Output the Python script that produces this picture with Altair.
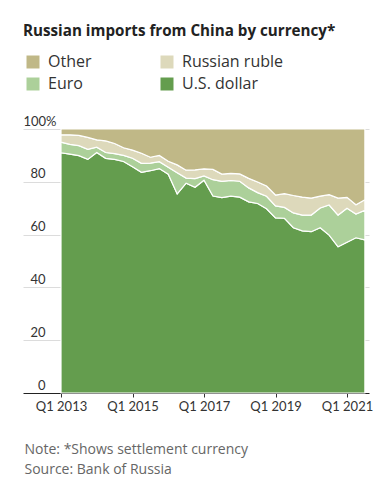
import altair as alt
import pandas as pd

quarters = [
    "Q1 2013", "Q2 2013", "Q3 2013", "Q4 2013",
    "Q1 2014", "Q2 2014", "Q3 2014", "Q4 2014",
    "Q1 2015", "Q2 2015", "Q3 2015", "Q4 2015",
    "Q1 2016", "Q2 2016", "Q3 2016", "Q4 2016",
    "Q1 2017", "Q2 2017", "Q3 2017", "Q4 2017",
    "Q1 2018", "Q2 2018", "Q3 2018", "Q4 2018",
    "Q1 2019", "Q2 2019", "Q3 2019", "Q4 2019",
    "Q1 2020", "Q2 2020", "Q3 2020", "Q4 2020",
    "Q1 2021", "Q2 2021", "Q3 2021",
]

us_dollar = [91.0, 90.5, 89.9, 88.5, 91.1, 88.9, 88.5, 87.7, 85.7, 83.6, 84.2, 85.0,
             82.9, 75.4, 79.5, 77.9, 80.6, 74.6, 74.0, 74.6, 74.2, 72.4, 71.8, 69.8,
             66.3, 66.2, 62.6, 61.4, 61.1, 62.6, 59.8, 55.4, 57.1, 58.8, 58.0]
euro = [4.0, 3.7, 3.8, 3.8, 2.0, 2.2, 2.2, 2.3, 3.2, 3.4, 2.9, 2.6,
        2.6, 8.0, 1.9, 3.3, 1.6, 6.2, 6.2, 5.9, 6.0, 5.3, 4.1, 4.7,
        4.6, 4.1, 5.6, 6.0, 6.3, 7.5, 11.4, 12.0, 12.9, 9.0, 11.2]
russian_ruble = [2.8, 3.6, 3.9, 4.5, 2.8, 4.4, 3.8, 2.9, 3.1, 3.8, 2.2, 2.4,
                 2.3, 3.0, 3.0, 3.3, 2.7, 3.9, 2.7, 2.7, 2.8, 3.6, 4.0, 3.9,
                 4.1, 5.2, 6.6, 6.8, 6.4, 4.5, 3.9, 6.4, 4.1, 3.5, 4.0]
other = [2.2, 2.2, 2.4, 3.2, 4.1, 4.5, 5.5, 7.1, 8.0, 9.2, 10.7, 10.0,
         12.2, 13.6, 15.6, 15.5, 15.1, 15.3, 17.1, 16.8, 17.0, 18.7, 20.1, 21.6,
         25.0, 24.5, 25.2, 25.8, 26.2, 25.4, 24.9, 26.2, 25.9, 28.7, 26.8]

currencies = ["Other", "Russian ruble", "Euro", "U.S. dollar"]
colors = ["#c0b887", "#ddd9bb", "#acd09a", "#649d4e"]
series = {"U.S. dollar": us_dollar, "Euro": euro, "Russian ruble": russian_ruble, "Other": other}
stack_rank = {"U.S. dollar": 0, "Euro": 1, "Russian ruble": 2, "Other": 3}

x_ticks = [2013, 2015, 2017, 2019, 2021]
y_ticks = [0, 20, 40, 60, 80, 100]

rows = []
for name, vals in series.items():
    for q, v in zip(quarters, vals):
        qn, yr = q.split(" ")
        t = int(yr) + (int(qn[1]) - 1) / 4
        rows.append({"quarter": q, "t": t, "currency": name, "share": v, "rank": stack_rank[name]})
df = pd.DataFrame(rows)

FONT = "Lato"
TFONT = "Open Sans"

chart = alt.Chart(df).mark_area(
    stroke="white", strokeWidth=1.2, interpolate="linear"
).encode(
    x=alt.X("t:Q",
            scale=alt.Scale(domain=[2011.937, 2021.615], nice=False, zero=False),
            axis=alt.Axis(
                values=x_ticks, labelExpr="'Q1 ' + datum.value", grid=False,
                tickSize=4, tickColor="#333", domainColor="#222", domainWidth=1,
                labelFont=FONT, labelFontSize=13, labelColor="#333", labelPadding=3,
                title=["Note: *Shows settlement currency", "Source: Bank of Russia"],
                titleAnchor="start", titleAlign="left", titleX=1, titleY=60,
                titleBaseline="alphabetic", titleFont=TFONT, titleFontSize=14,
                titleFontWeight="normal", titleColor="#666", titleLineHeight=20,
            )),
    y=alt.Y("share:Q", stack="zero",
            scale=alt.Scale(domain=[0, 100], nice=False),
            axis=alt.Axis(
                values=y_ticks, title=None, domain=False, ticks=False, grid=True,
                gridColor="#dcdcdc", gridWidth=1,
                gridOpacity={"condition": {"test": "datum.value == 0", "value": 0}, "value": 1},
                labelExpr="datum.value == 100 ? '100%' : datum.label",
                labelAlign={"condition": {"test": "datum.value == 100", "value": "left"}, "value": "right"},
                labelPadding={"condition": {"test": "datum.value == 100", "value": 0}, "value": -22},
                labelBaseline="alphabetic", labelOffset=-4,
                labelFont=FONT, labelFontSize=13, labelColor="#333",
            )),
    color=alt.Color("currency:N",
                    scale=alt.Scale(domain=currencies, range=colors),
                    legend=alt.Legend(
                        title=None, orient="none", legendX=2, legendY=-75,
                        direction="horizontal", columns=2, symbolType="square",
                        symbolSize=169, symbolStrokeWidth=0, labelFont=TFONT,
                        labelFontSize=16, labelColor="#333", labelOffset=7,
                        columnPadding=67, rowPadding=6, padding=0,
                    )),
    order=alt.Order("rank:Q", sort="ascending"),
).properties(
    width=346, height=264,
    padding={"left": 15, "top": 121, "right": 15, "bottom": 85},
    autosize=alt.AutoSizeParams(type="none"),
    title=alt.TitleParams(
        text="Russian imports from China by currency*", anchor="start", frame="group",
        font=TFONT, fontSize=15.2, fontWeight="bold", color="#222", offset=15,
    ),
).configure_view(stroke=None).configure_axis(zindex=1)

chart.save("out.html", embed_options={"renderer": "svg", "actions": False})
